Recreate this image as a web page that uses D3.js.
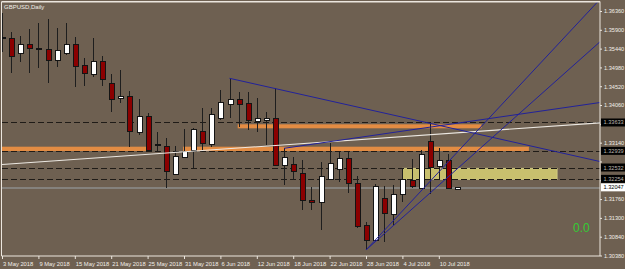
<!DOCTYPE html>
<html><head><meta charset="utf-8">
<script src="https://cdn.jsdelivr.net/npm/d3@7"></script>
<style>html,body{margin:0;padding:0;background:#6e6051;overflow:hidden}</style>
</head><body>
<svg id="c" width="625" height="269"></svg>
<script>
// ---------- data ----------
const title = "GBPUSD,Daily";
const opens  = [1.35700,1.35692,1.35326,1.35529,1.35450,1.35423,1.35145,1.35326,1.35546,1.35015,
                1.34807,1.35132,1.34599,1.34215,1.34274,1.33384,1.33775,1.33100,1.33034,1.32349,
                1.32782,1.32936,1.33425,1.33100,1.33736,1.34061,1.34184,1.34103,1.33663,1.33677,
                1.33719,1.32577,1.32611,1.32391,1.31714,1.31672,1.32244,1.32489,1.32741,1.32146,
                1.31102,1.30743,1.31780,1.31388,1.31877,1.32203,1.32024,1.33164,1.32552,1.32692,1.32000];
const highs  = [1.36311,1.35854,1.35749,1.35920,1.36067,1.36164,1.35937,1.36074,1.35717,1.35203,
                1.35692,1.35260,1.34812,1.34917,1.34411,1.34208,1.33873,1.33394,1.33262,1.33059,
                1.33474,1.33499,1.33981,1.33995,1.34428,1.34714,1.34387,1.34387,1.34240,1.33883,
                1.34470,1.33002,1.32797,1.32716,1.32063,1.32675,1.33125,1.32919,1.32919,1.32325,
                1.31193,1.32129,1.32080,1.32105,1.32513,1.32733,1.32961,1.33614,1.33002,1.32856,1.32063];
const lows   = [1.35357,1.34851,1.35120,1.34836,1.34978,1.34592,1.34998,1.35296,1.34489,1.34526,
                1.34739,1.34526,1.33897,1.34118,1.33041,1.33328,1.32924,1.32944,1.32024,1.32337,
                1.32770,1.32528,1.32919,1.33027,1.33694,1.33743,1.33531,1.33450,1.33408,1.33083,
                1.32557,1.32105,1.32227,1.31494,1.31494,1.31004,1.32232,1.32186,1.31902,1.31053,
                1.30515,1.30718,1.30718,1.31127,1.31696,1.32024,1.32007,1.31877,1.32227,1.31995,1.31983];
const closes = [1.35712,1.35242,1.35546,1.35448,1.35446,1.35145,1.35389,1.35546,1.35003,1.34832,
                1.35137,1.34673,1.34201,1.34274,1.33408,1.33775,1.32936,1.33066,1.32430,1.32790,
                1.32919,1.33467,1.33125,1.33817,1.34118,1.34201,1.34078,1.33694,1.33719,1.33736,
                1.32570,1.32782,1.32430,1.31721,1.31682,1.32308,1.32618,1.32758,1.32129,1.31085,
                1.30743,1.32063,1.31413,1.31877,1.32244,1.32063,1.32856,1.32528,1.32692,1.32007,1.32047];
const xTickBars   = [0,4,8,12,16,20,24,28,32,36,40,44,48];
const xTickLabels = ["3 May 2018","9 May 2018","15 May 2018","21 May 2018","25 May 2018","31 May 2018",
                     "6 Jun 2018","12 Jun 2018","18 Jun 2018","22 Jun 2018","28 Jun 2018","4 Jul 2018","10 Jul 2018"];
const yTicks = [1.30380,1.30840,1.31300,1.31760,1.32220,1.32680,1.33140,1.33600,1.34060,1.34520,1.34980,1.35440,1.35900,1.36360];
const levelPrices = [1.33633,1.32939,1.32532,1.32254];
const bidPrice = 1.32047;
// rectangle objects: [bar start, bar end, price top, price bottom]
const orangeBandStart = [-2, 19.9, 25.9];
const orangeBandEnd   = [16.4, 57.9, 52.7];
const orangeBandTop   = [1.33041, 1.33041, 1.33589];
const orangeBandBot   = [1.32936, 1.32936, 1.33491];
const zoneStart = [44.0], zoneEnd = [61.0], zoneTop = [1.32513], zoneBot = [1.32244];
// trend lines: two anchor points (bar, price)
const whiteLineBars = [0, 65.5], whiteLinePrices = [1.32606, 1.33621];
const blueLineB0 = [25, 31, 40, 40];
const blueLineP0 = [1.34714, 1.33002, 1.30515, 1.30515];
const blueLineB1 = [47, 47, 54.36, 57.29];
const blueLineP1 = [1.33614, 1.33518, 1.33939, 1.33939];
const indicatorText = "0.0";

// ---------- chart ----------
const W = 625, H = 269;
const L = 2, R = 600, T = 2, B = 256;
const svg = d3.select("#c");
const font = "'Liberation Sans', Arial, sans-serif";
svg.append("rect").attr("width", W).attr("height", H).attr("fill", "#6e6051");

const x = d3.scaleLinear().domain([0, 48]).range([2, 438.8]);
const y = d3.scaleLinear().domain([1.30380, 1.36360]).range([255.5, 11]);

svg.append("clipPath").attr("id", "plot").append("rect")
  .attr("x", L).attr("y", T).attr("width", R - L).attr("height", B - T);
const g = svg.append("g").attr("clip-path", "url(#plot)");

// background rectangles
const bandIdx = d3.range(orangeBandStart.length);
g.selectAll("rect.band").data(bandIdx).join("rect").attr("class", "band")
  .attr("x", i => x(orangeBandStart[i])).attr("width", i => x(orangeBandEnd[i]) - x(orangeBandStart[i]))
  .attr("y", i => y(orangeBandTop[i])).attr("height", i => y(orangeBandBot[i]) - y(orangeBandTop[i]))
  .attr("fill", "#e38c43");
const zoneIdx = d3.range(zoneStart.length);
g.selectAll("rect.zone").data(zoneIdx).join("rect").attr("class", "zone")
  .attr("x", i => x(zoneStart[i])).attr("width", i => x(zoneEnd[i]) - x(zoneStart[i]))
  .attr("y", i => y(zoneTop[i])).attr("height", i => y(zoneBot[i]) - y(zoneTop[i]))
  .attr("fill", "#c8c06e").attr("stroke", "#d6cf88").attr("stroke-width", 0.8);

// horizontal levels
g.selectAll("line.lvl").data(levelPrices).join("line").attr("class", "lvl")
  .attr("x1", L).attr("x2", R)
  .attr("y1", d => Math.round(y(d)) + 0.5).attr("y2", d => Math.round(y(d)) + 0.5)
  .attr("stroke", "#1f1b17").attr("stroke-width", 1).attr("stroke-dasharray", "6,3");
g.append("line").attr("x1", L).attr("x2", R)
  .attr("y1", Math.round(y(bidPrice)) + 1).attr("y2", Math.round(y(bidPrice)) + 1)
  .attr("stroke", "#8e8e8c").attr("stroke-width", 1.5);

// candles
const idx = d3.range(opens.length);
const cx = i => Math.round(x(i)) + 0.5;
const cg = g.append("g").attr("shape-rendering", "crispEdges");
cg.selectAll("line.wick").data(idx).join("line").attr("class", "wick")
  .attr("x1", cx).attr("x2", cx)
  .attr("y1", i => y(highs[i])).attr("y2", i => y(lows[i]))
  .attr("stroke", "#1e1e1e").attr("stroke-width", 1);
cg.selectAll("rect.body").data(idx).join("rect").attr("class", "body")
  .attr("x", i => cx(i) - 2.5).attr("width", 5)
  .attr("y", i => y(Math.max(opens[i], closes[i])))
  .attr("height", i => Math.max(1, y(Math.min(opens[i], closes[i])) - y(Math.max(opens[i], closes[i]))))
  .attr("fill", i => closes[i] >= opens[i] ? "#ffffff" : "#8b0000")
  .attr("stroke", "#141414").attr("stroke-width", 1);

// trend lines (rays to the right edge)
function ray(b0, p0, b1, p1, both) {
  const x0 = x(b0), y0 = y(p0), x1 = x(b1), y1 = y(p1);
  const s = (y1 - y0) / (x1 - x0);
  const xs = both ? L : x0;
  return [[xs, y0 + s * (xs - x0)], [R, y0 + s * (R - x0)]];
}
const lineGen = d3.line();
const w = ray(whiteLineBars[0], whiteLinePrices[0], whiteLineBars[1], whiteLinePrices[1], true);
g.append("path").attr("d", lineGen(w)).attr("fill", "none")
  .attr("stroke", "#ece8e2").attr("stroke-width", 1.1);
g.selectAll("path.blue").data(d3.range(blueLineB0.length)).join("path").attr("class", "blue")
  .attr("d", i => lineGen(ray(blueLineB0[i], blueLineP0[i], blueLineB1[i], blueLineP1[i], false)))
  .attr("fill", "none").attr("stroke", "#22229a").attr("stroke-width", 1);

// frame
svg.append("path").attr("d", `M${R},${T}H1.5V${B}H${R}V1.5`)
  .attr("fill", "none").attr("stroke", "#ece6de").attr("stroke-width", 1);
svg.append("line").attr("x1", 1.5).attr("x2", R).attr("y1", 1.5).attr("y2", 1.5)
  .attr("stroke", "#ece6de");

// right axis (tick labels hidden behind level labels are not written)
const covered = v => levelPrices.concat([bidPrice]).some(p => Math.abs(y(p) - y(v)) < 7);
const ya = svg.append("g").attr("transform", `translate(${R},0)`)
  .call(d3.axisRight(y).tickValues(yTicks)
    .tickFormat(v => covered(v) ? "" : d3.format(".5f")(v)).tickSize(2).tickPadding(2));
ya.select(".domain").remove();
ya.selectAll("line").attr("stroke", "#ece6de");
ya.selectAll("text").attr("fill", "#f2eee8").attr("font-family", font).attr("font-size", 5.6);

// level labels
const lab = svg.append("g");
lab.selectAll("rect").data(levelPrices).join("rect")
  .attr("x", R + 1).attr("width", W - R - 1).attr("y", d => y(d) - 4).attr("height", 8)
  .attr("fill", "#000");
lab.selectAll("text").data(levelPrices).join("text")
  .attr("x", R + 3.5).attr("y", d => y(d) + 2).text(d => d3.format(".5f")(d))
  .attr("fill", "#bdb8b0").attr("font-family", font).attr("font-size", 5.6);
lab.append("rect").attr("x", R + 1).attr("width", W - R - 1).attr("y", y(bidPrice) - 4).attr("height", 8)
  .attr("fill", "#ffffff");
lab.append("text").attr("x", R + 3.5).attr("y", y(bidPrice) + 2).text(d3.format(".5f")(bidPrice))
  .attr("fill", "#000").attr("font-family", font).attr("font-size", 5.6);

// bottom axis
const xa = svg.append("g").attr("transform", `translate(0,${B})`)
  .call(d3.axisBottom(x).tickValues(xTickBars).tickFormat((d, i) => xTickLabels[i]).tickSize(3).tickPadding(3));
xa.select(".domain").remove();
xa.selectAll("line").attr("stroke", "#ece6de");
xa.selectAll("text").attr("fill", "#f2eee8").attr("font-family", font).attr("font-size", 5.8)
  .attr("text-anchor", "start").attr("dx", 0.5);

// title and indicator value
svg.append("text").attr("x", 4).attr("y", 8.5).text(title)
  .attr("fill", "#f2eee8").attr("font-family", font).attr("font-size", 6);
svg.append("text").attr("x", 573).attr("y", 232).text(indicatorText)
  .attr("fill", "#33cc33").attr("font-family", font).attr("font-size", 12);
</script>
</body></html>
